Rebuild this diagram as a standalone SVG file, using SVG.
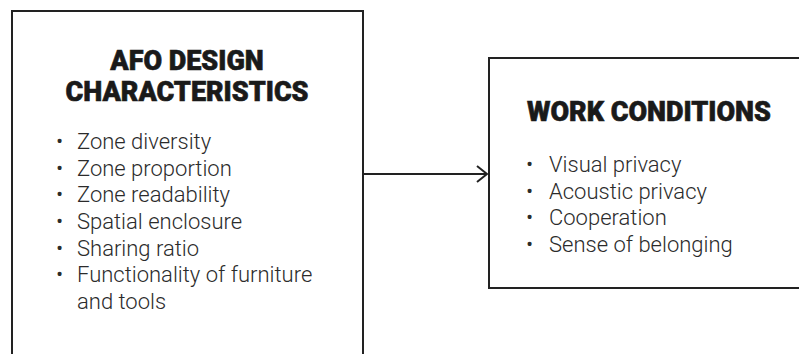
<svg xmlns="http://www.w3.org/2000/svg" width="799" height="354" viewBox="0 0 799 354">
<style>
.box{fill:#fff;stroke:#222;stroke-width:2}
.title{font-family:Roboto,"Liberation Sans",sans-serif;font-weight:900;font-size:27px;fill:#1a1a1a;stroke:#1a1a1a;stroke-width:0.6}
.item{font-family:Roboto,"Liberation Sans",sans-serif;font-weight:300;font-size:22px;fill:#2b2b2b}
.conn{fill:none;stroke:#222;stroke-width:2}
</style>
<rect width="799" height="354" fill="#fff"/>
<g id="afo">
<rect class="box" x="12" y="11" width="351" height="344"/>
<text class="title" x="187" y="70" text-anchor="middle">AFO DESIGN</text>
<text class="title" x="187" y="101" text-anchor="middle">CHARACTERISTICS</text>
<g class="item">
<text x="56" y="149">•</text><text x="77" y="149">Zone diversity</text>
<text x="56" y="175.7">•</text><text x="77" y="175.7">Zone proportion</text>
<text x="56" y="202.3">•</text><text x="77" y="202.3">Zone readability</text>
<text x="56" y="229">•</text><text x="77" y="229">Spatial enclosure</text>
<text x="56" y="255.7">•</text><text x="77" y="255.7">Sharing ratio</text>
<text x="56" y="282.3">•</text><text x="77" y="282.3">Functionality of furniture</text>
<text x="77" y="309">and tools</text>
</g>
</g>
<g id="work">
<rect class="box" x="489" y="58" width="320" height="230"/>
<text class="title" x="527" y="121">WORK CONDITIONS</text>
<g class="item">
<text x="526" y="172">•</text><text x="549" y="172">Visual privacy</text>
<text x="526" y="198.7">•</text><text x="549" y="198.7">Acoustic privacy</text>
<text x="526" y="225.3">•</text><text x="549" y="225.3">Cooperation</text>
<text x="526" y="252">•</text><text x="549" y="252">Sense of belonging</text>
</g>
</g>
<g id="connectors">
<line class="conn" x1="363" y1="174" x2="487" y2="174"/>
<polyline class="conn" points="477,166 487,174 477,182"/>
</g>
</svg>
